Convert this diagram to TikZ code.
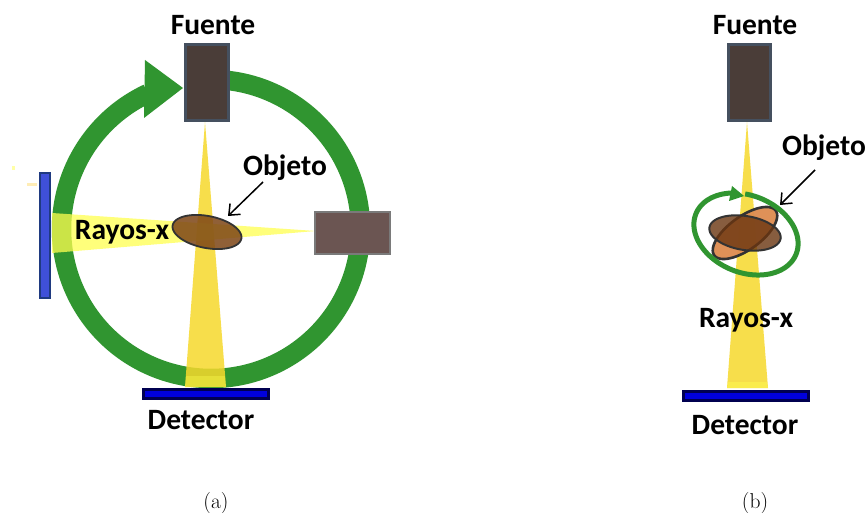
\documentclass[tikz,border=0pt]{standalone}
\usepackage{fontspec}
\newfontfamily\calloutfont{Carlito}
\usetikzlibrary{arrows.meta}
\definecolor{ringgreen}{HTML}{309530}
\definecolor{srcdark}{HTML}{4A3D38}
\definecolor{srcedge}{HTML}{45505F}
\definecolor{srclight}{HTML}{6B5552}
\definecolor{srclightedge}{HTML}{7A7A7A}
\definecolor{beamgold}{HTML}{F6D92C}
\definecolor{beampale}{HTML}{FFFF50}
\definecolor{objbrown}{HTML}{7D4515}
\definecolor{objdeep}{HTML}{6A3510}
\definecolor{objorange}{HTML}{DE8C50}
\definecolor{objedge}{HTML}{333333}
\definecolor{detfill}{HTML}{0000DC}
\definecolor{detedge}{HTML}{000050}
\definecolor{sidefill}{HTML}{3F50D8}
\definecolor{sideedge}{HTML}{1F3A80}
\tikzset{
  callout/.style={font=\calloutfont\bfseries\fontsize{29.5}{33}\selectfont,inner sep=0pt,text=black},
  caption/.style={font=\fontsize{21.5}{25}\selectfont,inner sep=0pt},
  sourcebox/.style={rectangle,inner sep=0pt,fill=srcdark,draw=srcedge,line width=3pt},
  sourcepale/.style={rectangle,inner sep=0pt,fill=srclight,draw=srclightedge,line width=2.5pt},
  flatdetector/.style={rectangle,inner sep=0pt,fill=detfill,draw=detedge,line width=3pt},
  sidedetector/.style={rectangle,inner sep=0pt,fill=sidefill,draw=sideedge,line width=2.5pt},
  goldbeam/.style={fill=beamgold,fill opacity=.85},
  palebeam/.style={fill=beampale,fill opacity=.75},
  pointer/.style={draw=black,line width=1.5pt,-{Straight Barb[length=9pt,width=15pt]}},
}
\begin{document}
\begin{tikzpicture}[x=1pt,y=-1pt]
\useasboundingbox (0,0) rectangle (868,513);
\fill[white] (0,0) rectangle (868,513);

% --- panel (a): rotating gantry ---
\draw[ringgreen,line width=19.5pt,line join=round]
  plot[domain=90:-245,samples=240] ({211+149.5*cos(\x)},{229-149.5*sin(\x)});
\fill[ringgreen] (145,60) -- (183,88) -- (144,118) -- cycle;

% beams
\fill[goldbeam] (205,122) -- (226,387) -- (185,387) -- cycle;
\fill[beampale,fill opacity=.35] (186,376) -- (225,376) -- (226,387) -- (185,387) -- cycle;
\fill[palebeam] (316,231) -- (52,253) -- (52,213) -- cycle;
\fill[beampale,opacity=.5] (12,166) rectangle (15,170);
\fill[beampale!60!orange,opacity=.35] (27,183) rectangle (37,186);

% object
\draw[objedge,line width=1.8pt,fill=objbrown,fill opacity=.85]
  plot[domain=0:360,samples=80] ({207+35*cos(\x)*cos(11)-16*sin(\x)*sin(11)},{232+35*cos(\x)*sin(11)+16*sin(\x)*cos(11)}) -- cycle;

% hardware
\node[sourcebox,minimum width=43pt,minimum height=76pt] (srcA) at (206.5,83) {};
\node[sourcepale,minimum width=75pt,minimum height=42pt] (srcAside) at (352.5,233) {};
\node[sidedetector,minimum width=10pt,minimum height=125pt] (detAside) at (45,235.5) {};
\node[flatdetector,minimum width=125pt,minimum height=9pt] (detA) at (205.5,393.5) {};

% labels
\node[callout] (fuenteA) at (213,25) {Fuente};
\node[callout] (objetoA) at (285,168) {Objeto};
\node[callout] (rayosA) at (122,232) {Rayos-x};
\node[callout] (detectorA) at (201,420) {Detector};
\node[caption] (capA) at (216,503) {(a)};
\coordinate (objAfrom) at (263,182);
\coordinate (objAto) at (228,216);
\draw[pointer] (objAfrom) -- (objAto);

% --- panel (b): rotating object ---
\fill[goldbeam] (747,122) -- (768,388) -- (727,388) -- cycle;
\fill[beampale,fill opacity=.45] (728,382) -- (767,382) -- (768,388) -- (727,388) -- cycle;

\draw[objedge,line width=2.6pt,fill=objorange,fill opacity=.95]
  plot[domain=0:360,samples=80] ({745+38*cos(\x)*cos(-36)-16.5*sin(\x)*sin(-36)},{233+38*cos(\x)*sin(-36)+16.5*sin(\x)*cos(-36)}) -- cycle;
\draw[objedge,line width=2pt,fill=objdeep,fill opacity=.8]
  plot[domain=0:360,samples=80] ({745+36*cos(\x)*cos(9)-17*sin(\x)*sin(9)},{233+36*cos(\x)*sin(9)+17*sin(\x)*cos(9)}) -- cycle;

% turning arrow around the object
\draw[ringgreen,line width=5pt]
  plot[domain=-107:238,samples=200] ({746+54*cos(\x)*cos(22)-38.5*sin(\x)*sin(22)},{234+54*cos(\x)*sin(22)+38.5*sin(\x)*cos(22)});
\fill[ringgreen] (732,186) -- (744,196) -- (729,201) -- cycle;

\node[sourcebox,minimum width=42pt,minimum height=76pt] (srcB) at (749,83) {};
\node[flatdetector,minimum width=125pt,minimum height=9pt] (detB) at (745.5,395.5) {};

\node[callout] (fuenteB) at (755,25) {Fuente};
\node[callout] (objetoB) at (824,148) {Objeto};
\node[callout] (rayosB) at (746,320) {Rayos-x};
\node[callout] (detectorB) at (745,425) {Detector};
\node[caption] (capB) at (755,503) {(b)};
\coordinate (objBfrom) at (815,170);
\coordinate (objBto) at (780,205);
\draw[pointer] (objBfrom) -- (objBto);
\end{tikzpicture}
\end{document}
